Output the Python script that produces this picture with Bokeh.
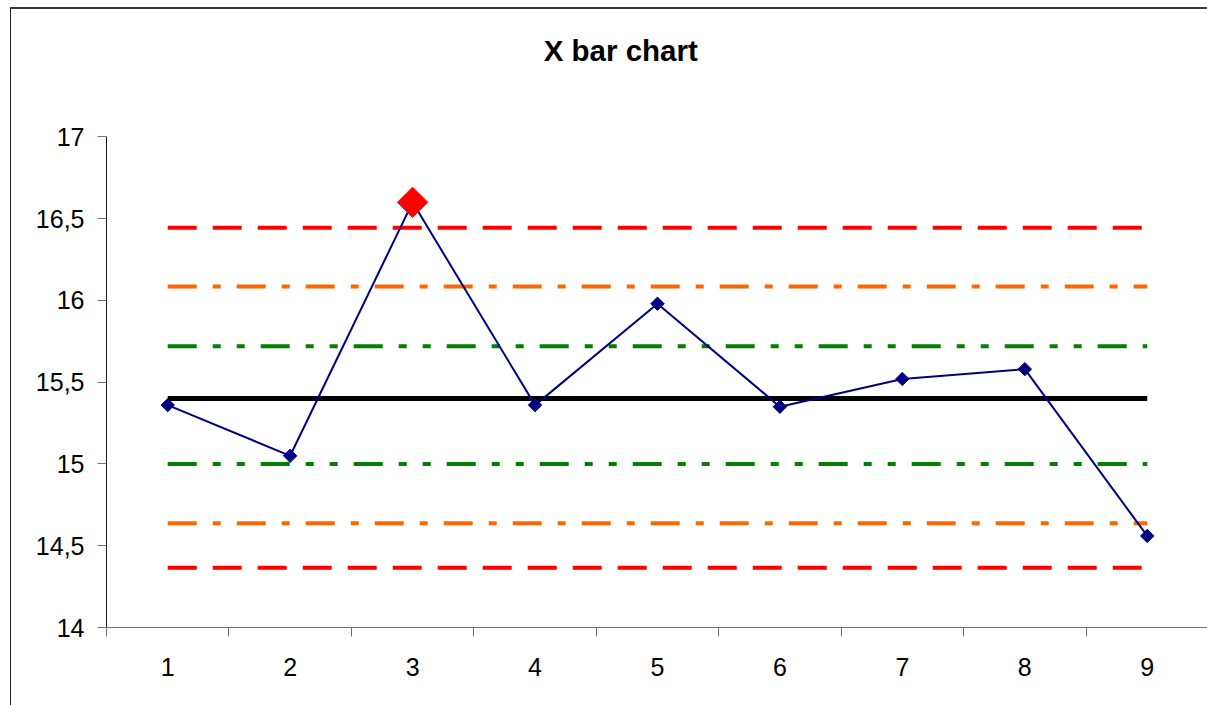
import math
from bokeh.plotting import figure
from bokeh.models import FixedTicker, Range1d, Label
from bokeh.embed import file_html
from bokeh.resources import INLINE

# ---- data ----
samples = [1, 2, 3, 4, 5, 6, 7, 8, 9]
xbar = [15.36, 15.05, 16.60, 15.36, 15.98, 15.35, 15.52, 15.58, 14.56]
out_of_control = [3]
center_line = 15.40
ucl_3s = 16.445
lcl_3s = 14.365
ucl_2s = 16.085
lcl_2s = 14.637
ucl_1s = 15.72
lcl_1s = 15.00
y_ticks = [14, 14.5, 15, 15.5, 16, 16.5, 17]
y_tick_labels = ["14", "14,5", "15", "15,5", "16", "16,5", "17"]
title_text = "X bar chart"

FONT = "Liberation Sans"
Y_MIN, Y_MAX = 14, 17
# headroom above the axis top, inside the frame, that holds the title
Y_TOP = 17.657

p = figure(width=1207, height=698, output_backend="svg", toolbar_location=None,
           x_range=Range1d(0.5, 9.582), y_range=Range1d(Y_MIN, Y_TOP),
           min_border_left=95, min_border_right=0, min_border_top=20,
           min_border_bottom=80)
p.title.text = ""
p.margin = (7, 0, 0, 10)
p.outline_line_color = None
p.grid.visible = False
p.background_fill_color = "white"
p.border_fill_color = "white"
p.styles = {"border-top": "2px solid #3a3a3a", "border-left": "1px solid #222222",
            "box-sizing": "border-box"}

# title (inside the tall frame, above the axis top)
p.add_layout(Label(x=4.70, y=17.53, text=title_text, text_font=FONT,
                   text_font_size="29.5px", text_font_style="bold",
                   text_color="#000000", text_align="center",
                   text_baseline="middle"))

# control lines
x0, x1 = samples[0], samples[-1]
def hline(yv, color, dash, width=4):
    p.line([x0, x1], [yv, yv], line_color=color, line_width=width, line_dash=dash)

hline(ucl_3s, "#ff0000", "29 16")
hline(lcl_3s, "#ff0000", "29 16")
hline(ucl_2s, "#ff6600", "29 16 8 16")
hline(lcl_2s, "#ff6600", "29 16 8 16")
hline(ucl_1s, "#008000", "29 16 8 16 8 16")
hline(lcl_1s, "#008000", "29 16 8 16 8 16")
hline(center_line, "#000000", "solid", width=5)

# data series
p.line(samples, xbar, line_color="#000080", line_width=2)
p.scatter(samples, xbar, marker="square", angle=math.pi / 4, size=9.5,
          fill_color="#000080", line_color="#000080")
ox = [s for s in samples if s in out_of_control]
oy = [xbar[samples.index(s)] for s in ox]
p.scatter(ox, oy, marker="square", angle=math.pi / 4, size=21.5,
          fill_color="#ff0000", line_color="#ff0000")

# y axis
ya = p.yaxis[0]
ya.bounds = (Y_MIN, Y_MAX)
ya.ticker = FixedTicker(ticks=y_ticks, minor_ticks=[])
ya.major_label_overrides = {t: l for t, l in zip(y_ticks, y_tick_labels)}
ya.major_label_text_font = FONT
ya.major_label_text_font_size = "25px"
ya.major_label_text_color = "#000000"
ya.axis_line_color = "#1a1a1a"
ya.major_tick_line_color = "#707070"
ya.major_tick_out = 9
ya.major_tick_in = 0
ya.major_label_standoff = 13

# x axis
xa = p.xaxis[0]
xa.ticker = FixedTicker(ticks=samples, minor_ticks=[s - 0.5 for s in samples])
xa.major_label_text_font = FONT
xa.major_label_text_font_size = "25px"
xa.major_label_text_color = "#000000"
xa.axis_line_color = "#707070"
xa.major_tick_out = 0
xa.major_tick_in = 0
xa.minor_tick_out = 9
xa.minor_tick_in = 0
xa.minor_tick_line_color = "#707070"
xa.major_label_standoff = 21

open("out.html", "w").write(file_html(p, INLINE))
